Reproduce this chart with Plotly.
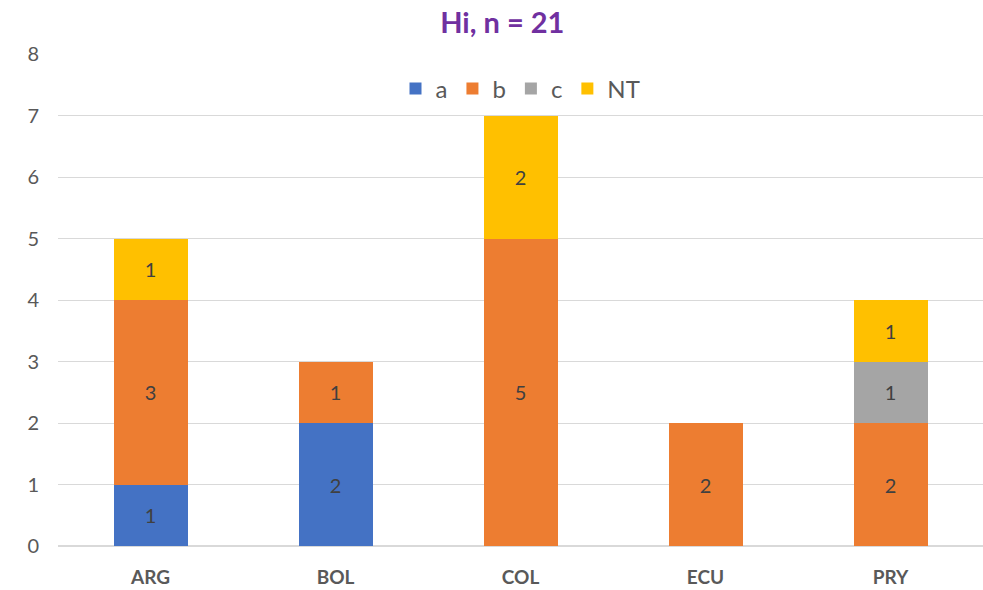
import plotly.graph_objects as go

# Country categories and stacked counts per class
countries = ["ARG", "BOL", "COL", "ECU", "PRY"]
a_vals = [1, 2, 0, 0, 0]
b_vals = [3, 1, 5, 2, 2]
c_vals = [0, 0, 0, 0, 1]
nt_vals = [1, 0, 2, 0, 1]
y_ticks = [0, 1, 2, 3, 4, 5, 6, 7, 8]

series = [
    ("a", a_vals, "#4472C4"),
    ("b", b_vals, "#ED7D31"),
    ("c", c_vals, "#A5A5A5"),
    ("NT", nt_vals, "#FFC000"),
]

FONT = "Lato, Noto Sans, sans-serif"

fig = go.Figure()
for name, vals, color in series:
    fig.add_trace(go.Bar(
        name=name,
        x=countries,
        y=vals,
        marker=dict(color=color, line=dict(width=0)),
        text=[str(v) if v else "" for v in vals],
        textposition="inside",
        insidetextanchor="middle",
        textangle=0,
        textfont=dict(family=FONT, size=20, color="#404040"),
        hoverinfo="x+y+name",
    ))

fig.update_layout(
    barmode="stack",
    bargap=0.6,
    width=983,
    height=590,
    margin=dict(l=58, r=0, t=54, b=44),
    paper_bgcolor="white",
    plot_bgcolor="white",
    font=dict(family=FONT, color="#595959"),
    title=dict(
        text="<b>Hi, n = 21</b>",
        x=0.511, xanchor="center",
        y=1 - 23 / 590, yanchor="middle",
        font=dict(family=FONT, size=29, color="#7030A0"),
    ),
    legend=dict(
        orientation="h",
        x=0.5, xanchor="center",
        y=0.929, yanchor="middle",
        bgcolor="rgba(0,0,0,0)",
        font=dict(family=FONT, size=24, color="#595959"),
        traceorder="normal",
        itemwidth=30,
    ),
    uniformtext=dict(minsize=10, mode="show"),
    xaxis=dict(
        showgrid=False,
        showline=True,
        linecolor="#D9D9D9",
        linewidth=1,
        ticks="",
        automargin=False,
        ticklabelstandoff=14,
        tickfont=dict(family=FONT, size=19, color="#595959", weight="bold"),
    ),
    yaxis=dict(
        range=[0, 8],
        tickvals=y_ticks,
        showgrid=True,
        gridcolor="#D9D9D9",
        gridwidth=1,
        zeroline=True,
        zerolinecolor="#D9D9D9",
        ticks="",
        automargin=False,
        ticklabelstandoff=18,
        tickfont=dict(family=FONT, size=20, color="#595959"),
    ),
)

fig.write_html("out.html")
